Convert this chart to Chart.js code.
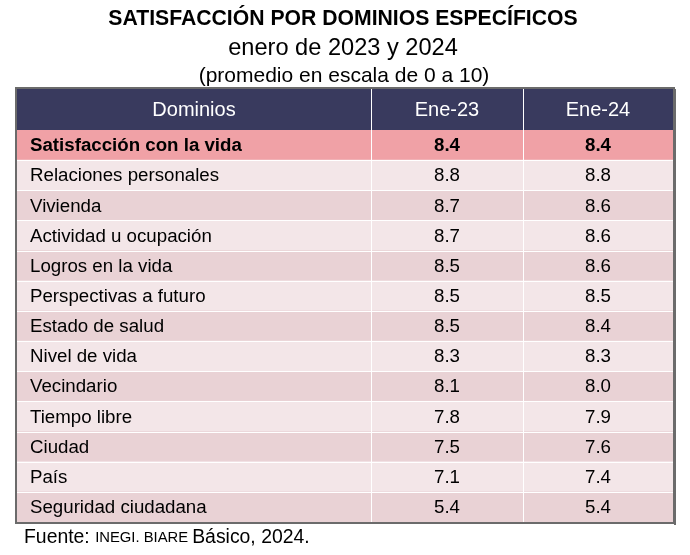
<!DOCTYPE html>
<html>
<head>
<meta charset="utf-8">
<script src="https://cdn.jsdelivr.net/npm/chart.js@4/dist/chart.umd.min.js"></script>
<style>
  body { margin: 0; background: #fff; }
  #wrap { width: 690px; height: 555px; position: relative; }
</style>
</head>
<body>
<div id="wrap"><canvas id="tabla"></canvas></div>
<script>
// datos
const columns = ['Dominios', 'Ene-23', 'Ene-24'];
const domains = [
  'Satisfacción con la vida', 'Relaciones personales', 'Vivienda',
  'Actividad u ocupación', 'Logros en la vida', 'Perspectivas a futuro',
  'Estado de salud', 'Nivel de vida', 'Vecindario', 'Tiempo libre',
  'Ciudad', 'País', 'Seguridad ciudadana'
];
const ene23 = [8.4, 8.8, 8.7, 8.7, 8.5, 8.5, 8.5, 8.3, 8.1, 7.8, 7.5, 7.1, 5.4];
const ene24 = [8.4, 8.8, 8.6, 8.6, 8.6, 8.5, 8.4, 8.3, 8.0, 7.9, 7.6, 7.4, 5.4];

// ancho de cada columna de la tabla (en unidades del eje x)
const colWidths = [354, 152, 150];
const FONT = '"Liberation Sans", Arial, sans-serif';

function rowColor(i) {
  if (i === 0) return '#f0a1a6';
  return i % 2 ? '#f3e6e8' : '#e9d2d5';
}

const tablePlugin = {
  id: 'tablePlugin',
  afterDatasetsDraw(chart) {
    const ctx = chart.ctx;
    const area = chart.chartArea;
    const y = chart.scales.y;
    const metas = [0, 1, 2].map(i => chart.getDatasetMeta(i).data);
    const headTop = 89;
    // limites de columna desde las barras
    const edges = [area.left, metas[0][0].x, metas[1][0].x, area.right];

    ctx.save();
    // encabezado
    ctx.fillStyle = '#393a5e';
    ctx.fillRect(area.left, headTop, area.right - area.left, area.top - headTop);
    ctx.fillStyle = '#fff';
    ctx.font = '20px ' + FONT;
    ctx.textAlign = 'center';
    ctx.textBaseline = 'middle';
    columns.forEach((c, i) => {
      ctx.fillText(c, (edges[i] + edges[i + 1]) / 2, (headTop + area.top) / 2 + 1);
    });

    // lineas blancas
    ctx.strokeStyle = '#fff';
    ctx.lineWidth = 1;
    for (let i = 1; i < domains.length; i++) {
      const yy = Math.round((y.getPixelForValue(i - 1) + y.getPixelForValue(i)) / 2) + 0.5;
      ctx.beginPath();
      ctx.moveTo(area.left, yy);
      ctx.lineTo(area.right, yy);
      ctx.stroke();
    }
    [edges[1], edges[2]].forEach(xx => {
      const px = Math.round(xx) + 0.5;
      ctx.beginPath();
      ctx.moveTo(px, headTop);
      ctx.lineTo(px, area.bottom);
      ctx.stroke();
    });

    // texto de las celdas
    ctx.fillStyle = '#000';
    domains.forEach((d, i) => {
      const yy = y.getPixelForValue(i) + 1;
      ctx.font = (i === 0 ? 'bold ' : '') + '18.7px ' + FONT;
      ctx.textAlign = 'left';
      ctx.fillText(d, area.left + 13, yy);
      ctx.textAlign = 'center';
      ctx.fillText(ene23[i].toFixed(1), (edges[1] + edges[2]) / 2, yy);
      ctx.fillText(ene24[i].toFixed(1), (edges[2] + edges[3]) / 2, yy);
    });

    // marco
    ctx.strokeStyle = '#6b6b6b';
    ctx.lineWidth = 2;
    ctx.strokeRect(area.left - 1, headTop - 1, area.right - area.left + 2, area.bottom - headTop + 2);
    ctx.fillStyle = '#6b6b6b';
    ctx.fillRect(area.right + 1, headTop, 2, area.bottom - headTop + 3);
    ctx.fillRect(area.left, area.bottom + 1, area.right - area.left + 3, 1);

    // titulos
    ctx.fillStyle = '#000';
    ctx.textAlign = 'center';
    ctx.font = 'bold 21.2px ' + FONT;
    ctx.fillText('SATISFACCIÓN POR DOMINIOS ESPECÍFICOS', 343, 19);
    ctx.font = '23.6px ' + FONT;
    ctx.fillText('enero de 2023 y 2024', 343, 48);
    ctx.font = '21px ' + FONT;
    ctx.fillText('(promedio en escala de 0 a 10)', 344, 76);

    // fuente
    ctx.textAlign = 'left';
    let fx = 24;
    const parts = [['Fuente: ', 19.4], ['INEGI. BIARE ', 14.8], ['Básico, 2024.', 19.4]];
    parts.forEach(([t, s]) => {
      ctx.font = s + 'px ' + FONT;
      ctx.fillText(t, fx, 538);
      fx += ctx.measureText(t).width;
    });
    ctx.restore();
  }
};

new Chart(document.getElementById('tabla'), {
  type: 'bar',
  data: {
    labels: domains,
    datasets: columns.map((c, k) => ({
      label: c,
      data: domains.map(() => colWidths[k]),
      backgroundColor: domains.map((d, i) => rowColor(i)),
      borderWidth: 0,
      barPercentage: 1,
      categoryPercentage: 1
    }))
  },
  options: {
    indexAxis: 'y',
    responsive: true,
    maintainAspectRatio: false,
    animation: false,
    layout: { padding: { left: 17, right: 17, top: 130, bottom: 33 } },
    scales: {
      x: { stacked: true, display: false, min: 0, max: 656 },
      y: { stacked: true, display: false }
    },
    plugins: {
      legend: { display: false },
      tooltip: { enabled: false }
    }
  },
  plugins: [tablePlugin]
});
</script>
</body>
</html>
